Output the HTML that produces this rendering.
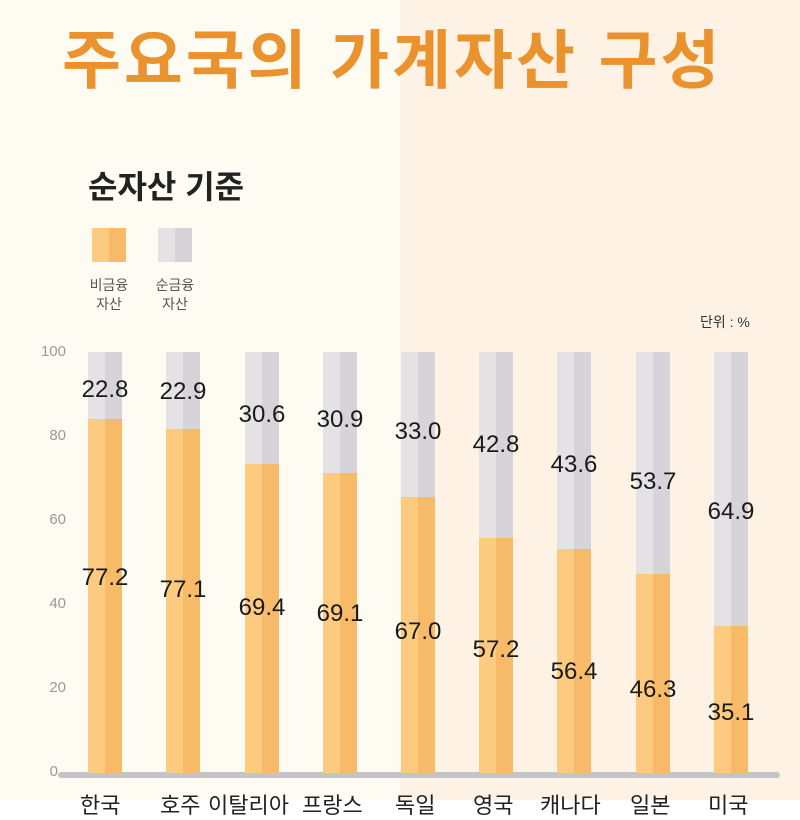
<!DOCTYPE html>
<html><head><meta charset="utf-8"><style>
html,body{margin:0;width:800px;height:800px;overflow:hidden;font-family:"Liberation Sans","Noto Sans CJK KR",sans-serif;}
.bg{position:absolute;top:0;height:800px}
.t{position:absolute;white-space:nowrap}
.bar{position:absolute;width:34px}
.g{background:linear-gradient(90deg,#e4e2e4 50%,#d6d4d8 50%)}
.o{background:linear-gradient(90deg,#fccb80 50%,#f7ba68 50%)}
.v{position:absolute;font-size:24px;color:#1a1a1a;width:80px;text-align:center;transform:translateX(-23px)}
.y{position:absolute;left:30px;font-size:15px;color:#999;width:36px;text-align:right}
</style></head><body>
<div class="bg" style="left:0;width:400px;background:#fefcf2"></div>
<div class="bg" style="left:400px;width:400px;background:#fdf2e4"></div>
<div class="t" style="left:62px;top:10px;font-size:64px;font-weight:bold;color:#ea922e;letter-spacing:3px">주요국의 가계자산 구성</div>
<div class="t" style="left:88px;top:162px;font-size:32px;font-weight:bold;color:#222">순자산 기준</div>
<div class="bar o" style="left:92px;top:228px;height:34px"></div>
<div class="bar g" style="left:158px;top:228px;height:34px"></div>
<div class="t" style="left:84px;top:276px;font-size:14px;color:#555;text-align:center;width:50px;line-height:19px">비금융<br>자산</div>
<div class="t" style="left:150px;top:276px;font-size:14px;color:#555;text-align:center;width:50px;line-height:19px">순금융<br>자산</div>
<div class="t" style="left:700px;top:312px;font-size:14px;color:#333">단위 : %</div>
<div class="y" style="top:343px">100</div>
<div class="y" style="top:427px">80</div>
<div class="y" style="top:511px">60</div>
<div class="y" style="top:595px">40</div>
<div class="y" style="top:679px">20</div>
<div class="y" style="top:763px;left:22px">0</div>
<div style="position:absolute;left:58px;top:772px;width:722px;height:6px;background:#c4c4c8;border-radius:3px"></div>
<div id="bars"></div>
<script>
var d=[[88,419,"22.8",390,"77.2",578],[166,429,"22.9",392,"77.1",590],[245,464,"30.6",415,"69.4",608],[323,473,"30.9",420,"69.1",614],[401,497,"33.0",432,"67.0",632],[479,538,"42.8",445,"57.2",650],[557,549,"43.6",465,"56.4",672],[636,574,"53.7",482,"46.3",690],[714,626,"64.9",512,"35.1",713]];
var h="";
d.forEach(function(a){
h+='<div class="bar g" style="left:'+a[0]+'px;top:352px;height:'+(a[1]-352)+'px"></div>';
h+='<div class="bar o" style="left:'+a[0]+'px;top:'+a[1]+'px;height:'+(773-a[1])+'px"></div>';
h+='<div class="v" style="left:'+a[0]+'px;top:'+(a[3]-14)+'px">'+a[2]+'</div>';
h+='<div class="v" style="left:'+a[0]+'px;top:'+(a[5]-14)+'px">'+a[4]+'</div>';
});
document.getElementById("bars").innerHTML=h;
</script>
<div class="t" style="left:80px;top:788px;font-size:22px;color:#222">한국</div>
<div class="t" style="left:160px;top:788px;font-size:22px;color:#222">호주</div>
<div class="t" style="left:208px;top:788px;font-size:22px;color:#222">이탈리아</div>
<div class="t" style="left:302px;top:788px;font-size:22px;color:#222">프랑스</div>
<div class="t" style="left:395px;top:788px;font-size:22px;color:#222">독일</div>
<div class="t" style="left:473px;top:788px;font-size:22px;color:#222">영국</div>
<div class="t" style="left:540px;top:788px;font-size:22px;color:#222">캐나다</div>
<div class="t" style="left:630px;top:788px;font-size:22px;color:#222">일본</div>
<div class="t" style="left:708px;top:788px;font-size:22px;color:#222">미국</div>
</body></html>
